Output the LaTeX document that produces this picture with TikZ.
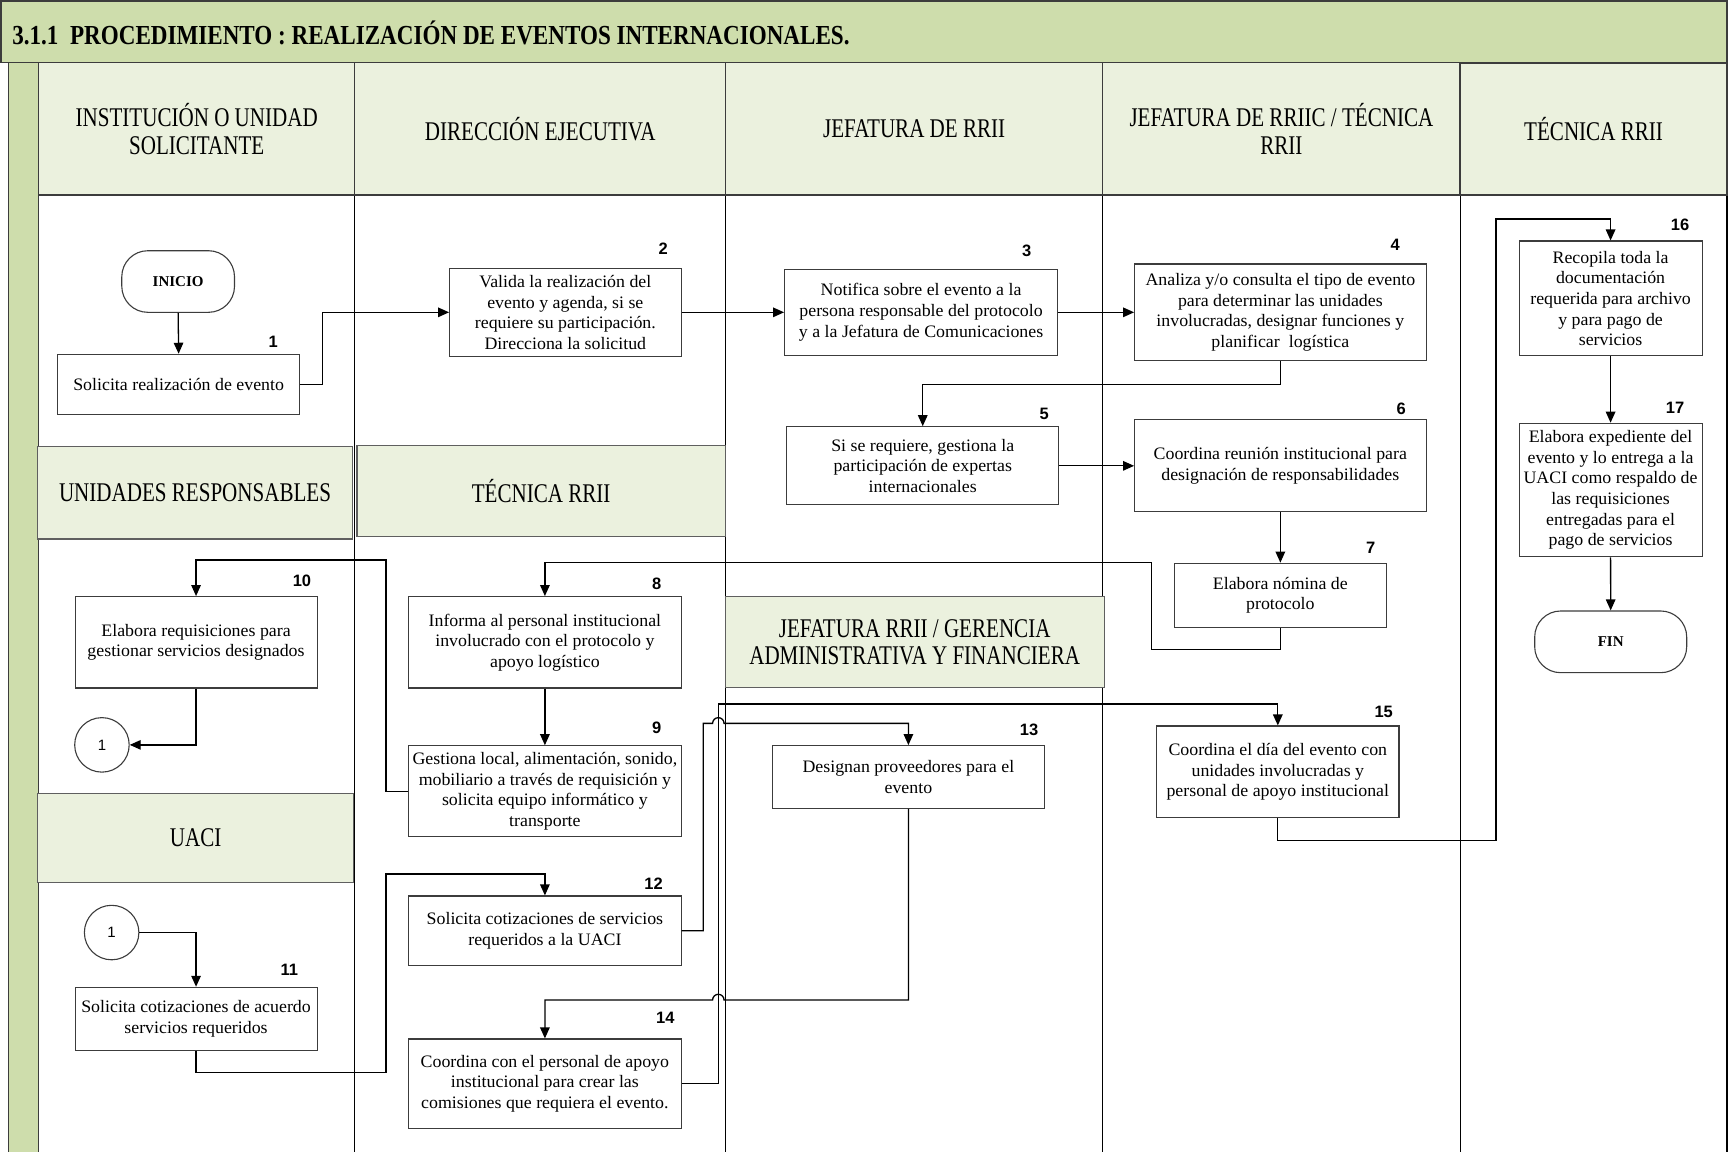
\documentclass[tikz,border=0pt]{standalone}
\usepackage{fontspec}
\setmainfont{Liberation Serif}
\newfontfamily\boxfont{Liberation Serif}[FakeStretch=1.02]
\newfontfamily\lanefont{Liberation Serif}[FakeStretch=0.78]
\newfontfamily\headfont{Liberation Serif}[FakeStretch=0.84]
\newfontfamily\numfont{Liberation Sans}
\usetikzlibrary{arrows.meta}

\definecolor{bandgreen}{RGB}{206,221,172}
\definecolor{cellgreen}{RGB}{235,241,222}
\definecolor{edgegrey}{RGB}{60,60,60}
\definecolor{subedge}{RGB}{95,95,95}

\tikzset{
  sz/.style 2 args={minimum width=#1pt, minimum height=#2pt},
  stepbox/.style={draw=edgegrey, line width=1.1pt, fill=white, inner sep=0pt,
    align=center, text=black, font=\boxfont\fontsize{17.5pt}{20.6pt}\selectfont},
  terminal/.style={stepbox, rounded corners=26pt,
    font=\rmfamily\bfseries\fontsize{15pt}{18pt}\selectfont},
  joint/.style={draw=edgegrey, line width=1.1pt, fill=white, circle, inner sep=0pt,
    minimum size=54.5pt, font=\numfont\fontsize{15pt}{18pt}\selectfont},
  stepnum/.style={inner sep=0pt, font=\numfont\bfseries\fontsize{16.5pt}{19pt}\selectfont},
  lanecell/.style={draw=edgegrey, line width=1.1pt, fill=cellgreen, inner sep=0pt,
    align=center, minimum height=132.2pt,
    font=\lanefont\fontsize{27pt}{27.5pt}\selectfont},
  subcell/.style={draw=subedge, line width=1.3pt, fill=cellgreen, inner sep=0pt,
    align=center, font=\lanefont\fontsize{27pt}{27.5pt}\selectfont},
  laneline/.style={draw=black, line width=1.2pt},
  flow/.style={draw=black, line width=1.3pt, -{Triangle[length=11pt,width=9.5pt]}},
}

\begin{document}
\begin{tikzpicture}[x=1.10204pt, y=-1.10204pt]
\useasboundingbox (0,0) rectangle (1568,1044.5);

% title band and left strip
\draw[draw=edgegrey, line width=1.3pt, fill=bandgreen] (1,1) rectangle (1567,57);
\node[anchor=west, inner sep=0pt, font=\headfont\bfseries\fontsize{27.5pt}{30pt}\selectfont]
  (title) at (11,30) {3.1.1\ \ PROCEDIMIENTO : REALIZACIÓN DE EVENTOS INTERNACIONALES.};
\draw[draw=edgegrey, line width=1.2pt, fill=bandgreen] (7.5,57) rectangle (35,1047);

% lane lines
\draw[laneline] (322,177) -- (322,1047);
\draw[laneline] (658.5,177) -- (658.5,1047);
\draw[laneline] (1000.5,177) -- (1000.5,1047);
\draw[laneline] (1325,177) -- (1325,1047);
\draw[laneline] (1567,57) -- (1567,1047);

% lane headers
\node[lanecell, minimum width=316.3pt] (L1) at (178.5,117) {INSTITUCIÓN O UNIDAD\\SOLICITANTE};
\node[lanecell, minimum width=370.8pt] (L2) at (490.25,117) {DIRECCIÓN EJECUTIVA};
\node[lanecell, minimum width=376.4pt] (L3) at (829.5,117) {JEFATURA DE RRII};
\node[lanecell, minimum width=357.7pt] (L4) at (1162.75,117) {JEFATURA DE RRIIC / TÉCNICA\\RRII};
\node[lanecell, minimum width=266.7pt, line width=1.5pt] (L5) at (1446,117) {TÉCNICA RRII};

% sub-lane headers
\node[subcell, sz={315.2}{92.6}] (S1) at (177,447) {UNIDADES RESPONSABLES};
\node[subcell, sz={368.1}{91}] (S2) at (491,445.7) {TÉCNICA RRII};
\node[subcell, sz={316.3}{89.3}] (S3) at (177.5,760.5) {UACI};
\node[subcell, sz={379.1}{91}] (S4) at (830,582.7) {JEFATURA RRII / GERENCIA\\ADMINISTRATIVA Y FINANCIERA};

% terminals and connectors
\node[terminal, sz={112.7}{61.6}] (inicio) at (161.65,255.45) {INICIO};
\node[terminal, sz={152}{61.7}] (fin) at (1461.55,582.4) {FIN};
\node[joint] (c1a) at (92.5,675.9) {1};
\node[joint] (c1b) at (101.3,846.2) {1};

% steps
\node[stepbox, sz={242.2}{60.1}] (b1) at (162.1,348.75) {Solicita realización de evento};
\node[stepbox, sz={231.4}{87.9}] (b2) at (513,283.4) {Valida la realización del\\evento y agenda, si se\\requiere su participación.\\Direcciona la solicitud};
\node[stepbox, sz={272.9}{85.5}] (b3) at (835.8,283.4) {Notifica sobre el evento a la\\persona responsable del protocolo\\y a la Jefatura de Comunicaciones};
\node[stepbox, sz={291.4}{96.6}] (b4) at (1161.8,283.4) {Analiza y/o consulta el tipo de evento\\para determinar las unidades\\involucradas, designar funciones y\\planificar\ \ logística};
\node[stepbox, sz={272.2}{78.2}] (b5) at (837.3,422.7) {Si se requiere, gestiona la\\participación de expertas\\internacionales};
\node[stepbox, sz={291.4}{91.8}] (b6) at (1161.8,422.7) {Coordina reunión institucional para\\designación de responsabilidades};
\node[stepbox, sz={211.7}{64}] (b7) at (1161.8,540.1) {Elabora nómina de\\protocolo};
\node[stepbox, sz={272.3}{91.4}] (b8) at (494.45,582.85) {Informa al personal institucional\\involucrado con el protocolo y\\apoyo logístico};
\node[stepbox, sz={272.3}{90.9}] (b9) at (494.45,717.95) {Gestiona local, alimentación, sonido,\\mobiliario a través de requisición y\\solicita equipo informático y\\transporte};
\node[stepbox, sz={242}{91.4}] (b10) at (177.9,582.85) {Elabora requisiciones para\\gestionar servicios designados};
\node[stepbox, sz={242}{63.4}] (b11) at (177.9,924.65) {Solicita cotizaciones de acuerdo\\servicios requeridos};
\node[stepbox, sz={272.3}{69.4}] (b12) at (494.45,844.5) {Solicita cotizaciones de servicios\\requeridos a la UACI};
\node[stepbox, sz={272}{62.7}] (b13) at (824.3,705.05) {Designan proveedores para el\\evento};
\node[stepbox, sz={272.3}{89.4}] (b14) at (494.45,983.35) {Coordina con el personal de apoyo\\institucional para crear las\\comisiones que requiera el evento.};
\node[stepbox, sz={242.4}{91.7}] (b15) at (1159.5,700.4) {Coordina el día del evento con\\unidades involucradas y\\personal de apoyo institucional};
\node[stepbox, sz={183}{114.9}] (b16) at (1461.45,270.85) {Recopila toda la\\documentación\\requerida para archivo\\y para pago de\\servicios};
\node[stepbox, sz={183}{133.5}] (b17) at (1461.45,444.65) {Elabora expediente del\\evento y lo entrega a la\\UACI como respaldo de\\las requisiciones\\entregadas para el\\pago de servicios};

% step numbers
\node[stepnum] (n1) at (248,310) {1};
\node[stepnum] (n2) at (601.7,226) {2};
\node[stepnum] (n3) at (931.7,227.8) {3};
\node[stepnum] (n4) at (1266,222) {4};
\node[stepnum] (n5) at (947.5,375.7) {5};
\node[stepnum] (n6) at (1271.4,370.8) {6};
\node[stepnum] (n7) at (1243.8,496.7) {7};
\node[stepnum] (n8) at (596,529.8) {8};
\node[stepnum] (n9) at (596,660) {9};
\node[stepnum] (n10) at (274,527) {10};
\node[stepnum] (n11) at (262.5,880.2) {11};
\node[stepnum] (n12) at (593,801.5) {12};
\node[stepnum] (n13) at (933.8,661.8) {13};
\node[stepnum] (n14) at (603.8,924) {14};
\node[stepnum] (n15) at (1255.6,645.8) {15};
\node[stepnum] (n16) at (1524.5,203.6) {16};
\node[stepnum] (n17) at (1520,370.5) {17};

% flow
\draw[flow] (inicio.south) -- (b1.north);
\draw[flow] (b1.east) -- ++(20,0) |- (b2.west);
\draw[flow] (b2.east) -- (b2.east -| b3.west);
\draw[flow] (b3.east) -- (b3.east -| b4.west);
\draw[flow] (b4.south) -- ++(0,21) -| (b5.north);
\draw[flow] (b5.east) -- (b5.east -| b6.west);
\draw[flow] (b6.south) -- (b7.north);
\draw[flow] (b7.south) -- ++(0,19.9) -| (1045.1,510.6) -| (b8.north);
\draw[flow] (b8.south) -- (b9.north);
\draw[flow] (b9.west) -| (350.3,508.2) -| (b10.north);
\draw[flow] (b10.south) |- (c1a.east);
\draw[flow] (c1b.east) -| (b11.north);
\draw[flow] (b11.south) -- ++(0,19.4) -| (350.3,793.1) -| (b12.north);
\draw[flow] (b12.east) -| (638.1,656.4) -- (646.6,656.4)
  arc[start angle=180, end angle=360, radius=5.2] -| (b13.north);
\draw[flow] (b13.south) |- (657,907.4)
  arc[start angle=0, end angle=-180, radius=5.2] -| (b14.north);
\draw[flow] (b14.east) -| (651.8,638.8) -| (b15.north);
\draw[flow] (b15.south) -- ++(0,20.2) -| (1357.6,198.7) -| (b16.north);
\draw[flow] (b16.south) -- (b17.north);
\draw[flow] (b17.south) -- (fin.north);
\end{tikzpicture}
\end{document}
